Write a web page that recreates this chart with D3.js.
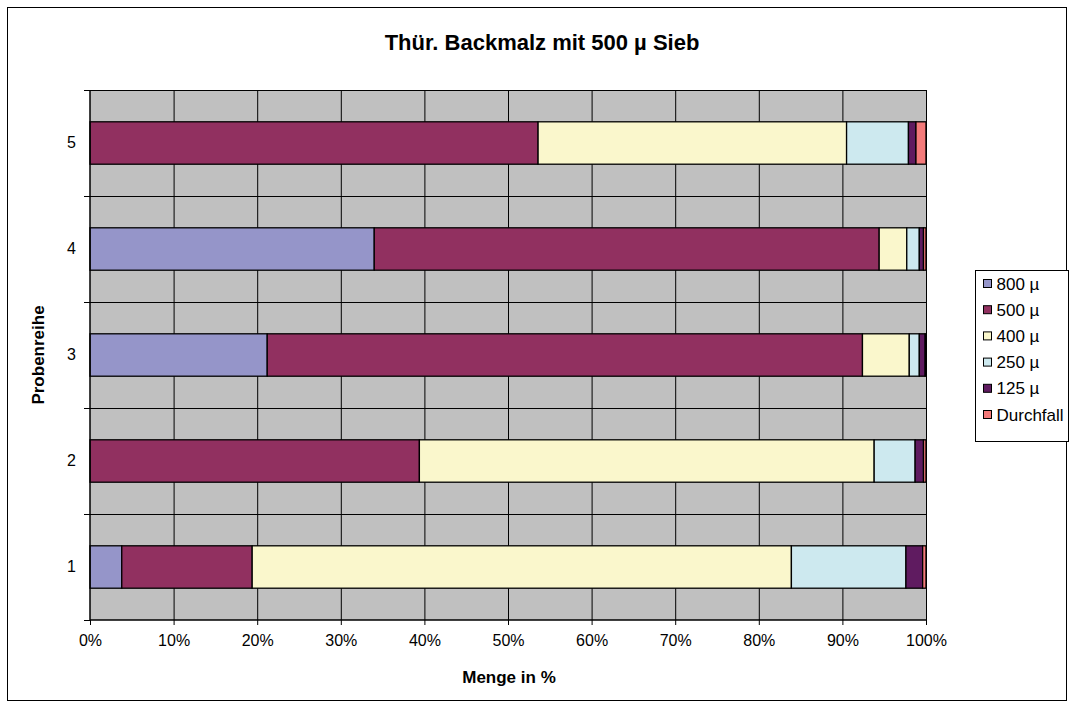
<!DOCTYPE html>
<html>
<head>
<meta charset="utf-8">
<script src="https://cdn.jsdelivr.net/npm/d3@7"></script>
<style>
  html, body { margin: 0; padding: 0; background: #fff; }
  svg { display: block; font-family: Arial, "Liberation Sans", sans-serif; }
</style>
</head>
<body>
<svg id="chart" width="1070" height="704"></svg>
<script>
// Sample rows (bottom to top on the chart)
const categories = ["1", "2", "3", "4", "5"];
const seriesNames = ["800 µ", "500 µ", "400 µ", "250 µ", "125 µ", "Durchfall"];
const seriesColors = ["#9595C9", "#913060", "#FAF7CC", "#CDE9EF", "#5F1B60", "#F47A7A"];
// Share of each sieve fraction in %, one array per fraction, in category order
const s800 = [3.8, 0.0, 21.2, 34.0, 0.0];
const s500 = [15.6, 39.4, 71.2, 60.4, 53.6];
const s400 = [64.5, 54.4, 5.6, 3.3, 36.9];
const s250 = [13.7, 4.9, 1.2, 1.5, 7.4];
const s125 = [2.0, 1.0, 0.7, 0.5, 0.9];
const sDurchfall = [0.4, 0.3, 0.1, 0.3, 1.2];
const xTicks = [0, 10, 20, 30, 40, 50, 60, 70, 80, 90, 100];

const title = "Thür. Backmalz mit 500 µ Sieb";
const xTitle = "Menge in %";
const yTitle = "Probenreihe";

const FONT = "Arial, 'Liberation Sans', sans-serif";

const seriesValues = [s800, s500, s400, s250, s125, sDurchfall];
const table = categories.map((c, i) => {
  const row = { cat: c };
  seriesNames.forEach((n, k) => { row[n] = seriesValues[k][i]; });
  return row;
});

const svg = d3.select("#chart");
const W = 1070, H = 704;
const plot = { left: 90, right: 926, top: 90, bottom: 620 };

// chart frame
svg.append("rect").attr("x", 7.5).attr("y", 7.5).attr("width", W - 11).attr("height", H - 11)
  .attr("fill", "#fff").attr("stroke", "#000").attr("stroke-width", 1);

const x = d3.scaleLinear().domain([0, 100]).range([plot.left, plot.right]);
const y = d3.scaleBand().domain(categories.slice().reverse())
  .range([plot.top, plot.bottom]).paddingInner(0.6).paddingOuter(0.3);
const step = y.step();

// plot background
svg.append("rect").attr("x", plot.left).attr("y", plot.top)
  .attr("width", plot.right - plot.left).attr("height", plot.bottom - plot.top)
  .attr("fill", "#C0C0C0");

// vertical gridlines
svg.append("g").selectAll("line").data(xTicks.slice(1)).join("line")
  .attr("x1", d => x(d) + 0.5).attr("x2", d => x(d) + 0.5)
  .attr("y1", plot.top).attr("y2", plot.bottom)
  .attr("stroke", "#000").attr("stroke-width", 1);

// horizontal gridlines at category boundaries
const bounds = d3.range(categories.length + 1).map(i => plot.top + i * step);
svg.append("g").selectAll("line").data(bounds.slice(0, -1)).join("line")
  .attr("x1", plot.left).attr("x2", plot.right)
  .attr("y1", d => Math.round(d) + 0.5).attr("y2", d => Math.round(d) + 0.5)
  .attr("stroke", "#000").attr("stroke-width", 1);

// stacked bars
const stack = d3.stack().keys(seriesNames)(table);
const gBars = svg.append("g");
stack.forEach((layer, k) => {
  gBars.append("g").selectAll("rect").data(layer).join("rect")
    .attr("x", d => x(d[0]))
    .attr("y", d => y(d.data.cat))
    .attr("width", d => Math.max(0, x(d[1]) - x(d[0])))
    .attr("height", y.bandwidth())
    .attr("fill", seriesColors[k])
    .attr("stroke", "#000").attr("stroke-width", 1.3);
});

// x axis
const xAxis = d3.axisBottom(x).tickValues(xTicks).tickFormat(d => d + "%").tickSize(5).tickPadding(10);
const gx = svg.append("g").attr("transform", `translate(0,${plot.bottom})`).call(xAxis);
gx.attr("font-size", null).attr("font-family", null);
gx.select(".domain").attr("stroke", "#000").attr("stroke-width", 1.5).attr("d", `M${plot.left},0H${plot.right}`);
gx.selectAll(".tick line").attr("stroke", "#000");
gx.selectAll(".tick text").style("font-size", "16px").attr("fill", "#000").style("font-family", FONT);

// y axis
const yAxis = d3.axisLeft(y).tickSize(0).tickPadding(14);
const gy = svg.append("g").attr("transform", `translate(${plot.left},0)`).call(yAxis);
gy.attr("font-size", null).attr("font-family", null);
gy.select(".domain").attr("stroke", "#000").attr("stroke-width", 1.5).attr("d", `M0,${plot.top}V${plot.bottom}`);
gy.selectAll(".tick text").style("font-size", "16px").attr("fill", "#000").style("font-family", FONT);
gy.append("g").selectAll("line").data(bounds).join("line")
  .attr("x1", -6).attr("x2", 0)
  .attr("y1", d => Math.round(d) + 0.5).attr("y2", d => Math.round(d) + 0.5)
  .attr("stroke", "#000");

// titles
svg.append("text").attr("x", 542).attr("y", 50).attr("text-anchor", "middle")
  .style("font-size", "22px").attr("font-weight", "bold").text(title);
svg.append("text").attr("x", 509).attr("y", 683).attr("text-anchor", "middle")
  .style("font-size", "17px").attr("font-weight", "bold").text(xTitle);
svg.append("text").attr("transform", "translate(44,355) rotate(-90)").attr("text-anchor", "middle")
  .style("font-size", "17px").attr("font-weight", "bold").text(yTitle);

// legend
const lg = svg.append("g").attr("transform", "translate(975.5,270.5)");
lg.append("rect").attr("width", 93).attr("height", 171).attr("fill", "#fff").attr("stroke", "#000");
const items = lg.selectAll("g").data(seriesNames).join("g")
  .attr("transform", (d, i) => `translate(8,${13 + i * 26.2})`);
items.append("rect").attr("x", 0).attr("y", -4).attr("width", 8).attr("height", 8)
  .attr("fill", (d, i) => seriesColors[i]).attr("stroke", "#000");
items.append("text").attr("x", 13).attr("y", 6).style("font-size", "17px").text(d => d);
</script>
</body>
</html>
